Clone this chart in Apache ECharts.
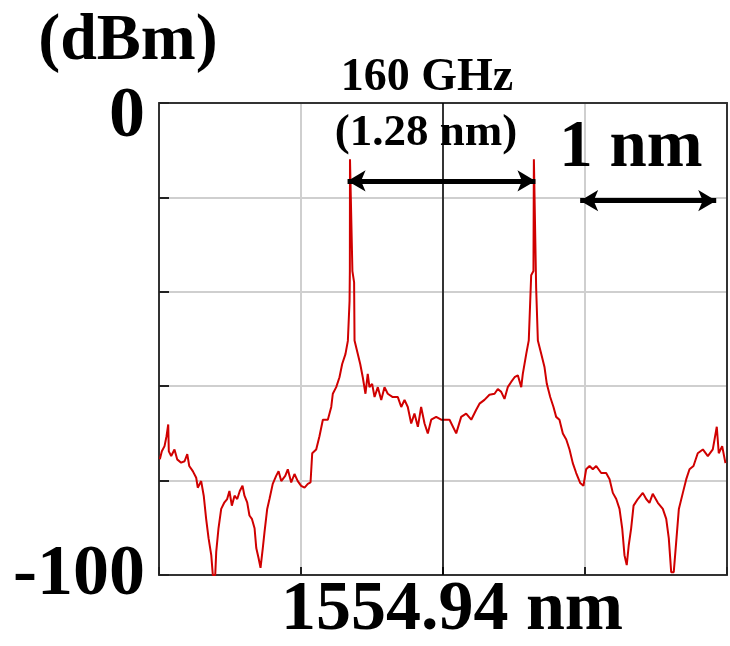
<!DOCTYPE html>
<html>
<head>
<meta charset="utf-8">
<script src="https://cdn.jsdelivr.net/npm/echarts@6/dist/echarts.min.js"></script>
<style>
  html, body { margin: 0; padding: 0; background: #fff; }
  #chart { width: 730px; height: 646px; }
</style>
</head>
<body>
<div id="chart"></div>
<script>
// centre wavelength of the scan, x data are offsets from it (nm)
var centerNm = 1554.94
var offsetNm = [
  -1.994, -1.980, -1.961, -1.947, -1.935, -1.931, -1.914, -1.891, -1.872, -1.844,
  -1.820, -1.801, -1.787, -1.762, -1.738, -1.727, -1.703, -1.685, -1.668, -1.651,
  -1.632, -1.621, -1.604, -1.597, -1.581, -1.562, -1.539, -1.520, -1.504, -1.487,
  -1.468, -1.449, -1.431, -1.412, -1.398, -1.379, -1.363, -1.346, -1.327, -1.315,
  -1.299, -1.285, -1.269, -1.257, -1.238, -1.222, -1.199, -1.175, -1.158, -1.139,
  -1.111, -1.093, -1.069, -1.046, -1.023, -0.999, -0.975, -0.952, -0.933, -0.921,
  -0.893, -0.870, -0.846, -0.811, -0.787, -0.776, -0.752, -0.729, -0.710, -0.687,
  -0.670, -0.658, -0.656, -0.655, -0.641, -0.638, -0.626, -0.623, -0.600, -0.583,
  -0.565, -0.546, -0.530, -0.518, -0.499, -0.482, -0.459, -0.435, -0.412, -0.389,
  -0.354, -0.318, -0.294, -0.271, -0.248, -0.224, -0.201, -0.177, -0.154, -0.130,
  -0.107, -0.083, -0.048, -0.013, 0.023, 0.046, 0.093, 0.128, 0.163, 0.199,
  0.234, 0.257, 0.292, 0.327, 0.363, 0.386, 0.410, 0.433, 0.456, 0.480,
  0.504, 0.527, 0.551, 0.562, 0.586, 0.604, 0.621, 0.637, 0.640, 0.654,
  0.656, 0.668, 0.692, 0.715, 0.731, 0.755, 0.778, 0.797, 0.820, 0.844,
  0.868, 0.891, 0.914, 0.938, 0.966, 0.989, 1.008, 1.032, 1.055, 1.079,
  1.114, 1.149, 1.173, 1.196, 1.220, 1.243, 1.262, 1.278, 1.294, 1.308,
  1.325, 1.342, 1.372, 1.407, 1.431, 1.454, 1.477, 1.513, 1.548, 1.572,
  1.590, 1.607, 1.625, 1.642, 1.661, 1.689, 1.713, 1.736, 1.764, 1.794,
  1.830, 1.865, 1.900, 1.928, 1.942, 1.966, 1.989
]
var powerDbm = [
  -75.5, -73.8, -72.7, -70.6, -68.1, -73.8, -74.8, -73.4, -75.5, -76.2,
  -75.9, -74.4, -76.9, -78.0, -79.4, -81.5, -80.1, -83.2, -88.1, -92.2,
  -95.8, -100, -100, -95.1, -90.1, -86.0, -84.6, -83.9, -82.2, -85.3,
  -83.2, -83.9, -82.2, -81.1, -83.2, -84.6, -87.4, -88.1, -90.1, -94.3,
  -96.4, -98.5, -94.3, -90.9, -86.0, -83.9, -80.7, -79.0, -78.0, -80.1,
  -79.0, -77.6, -80.4, -78.6, -80.1, -81.1, -81.5, -80.7, -80.4, -74.2,
  -73.4, -70.6, -67.1, -67.1, -64.4, -61.6, -60.2, -58.1, -55.3, -53.2,
  -50.4, -41.9, -35.6, -11.9, -11.9, -35.6, -38.0, -50.3, -53.2, -55.3,
  -58.1, -61.6, -57.4, -60.2, -59.5, -62.3, -60.2, -62.9, -60.2, -61.6,
  -62.3, -62.3, -64.4, -62.9, -64.4, -67.9, -65.8, -68.6, -64.4, -67.9,
  -70.0, -67.1, -66.5, -67.1, -67.1, -67.1, -70.0, -66.5, -65.8, -67.1,
  -65.0, -63.7, -62.9, -61.8, -61.6, -60.6, -61.2, -62.7, -60.2, -59.1,
  -58.1, -57.7, -60.2, -57.4, -53.2, -50.3, -36.5, -35.6, -11.9, -11.9,
  -39.2, -50.3, -53.2, -56.0, -59.5, -62.3, -64.4, -66.5, -67.1, -70.0,
  -71.3, -73.4, -76.3, -78.4, -80.5, -81.1, -77.6, -76.9, -77.6, -76.9,
  -78.4, -78.4, -79.7, -82.6, -83.9, -86.0, -90.1, -95.8, -97.9, -93.7,
  -90.1, -85.3, -83.9, -82.6, -83.9, -84.7, -82.8, -84.7, -86.0, -88.1,
  -92.2, -99.4, -99.4, -93.1, -86.0, -82.6, -79.7, -77.6, -76.9, -74.2,
  -73.4, -74.8, -73.4, -68.6, -74.2, -72.7, -76.3
]
var yTickLabels = [0, -100]

// annotation arrows: [start offset, end offset, level dBm]
var spacingArrow = [-0.672, 0.651, -16.5]
var scaleArrow = [0.966, 1.924, -20.7]

var serif = '"Liberation Serif", "Times New Roman", serif'
var frame = { color: '#333', width: 2 }

var chart = echarts.init(document.getElementById('chart'))

function arrowLine(a) {
  return [
    { coord: [a[0], a[2]], symbol: 'arrow' },
    { coord: [a[1], a[2]], symbol: 'arrow' }
  ]
}

chart.setOption({
  animation: false,
  backgroundColor: '#fff',
  grid: { left: 159, right: 3, top: 103, bottom: 66 },
  xAxis: [
    {
      type: 'value',
      min: -2,
      max: 2,
      interval: 1,
      axisLine: { show: true, onZero: false, lineStyle: frame },
      axisTick: { show: true, inside: true, length: 8, lineStyle: { color: '#222', width: 2 } },
      splitLine: { show: true, lineStyle: { color: '#cfcfcf', width: 2 } },
      axisLabel: {
        margin: 1,
        formatter: function(v) {
          return Math.abs(v) < 1e-6 ? '{c|' + centerNm.toFixed(2) + ' nm}' : ''
        },
        rich: {
          c: {
            fontFamily: serif,
            fontWeight: 'bold',
            fontSize: 70,
            lineHeight: 70,
            color: '#000',
            padding: [0, 0, 0, 18]
          }
        }
      }
    },
    {
      // top frame edge
      type: 'value', position: 'top', min: -2, max: 2, interval: 1,
      axisLine: { show: true, onZero: false, lineStyle: frame },
      axisTick: { show: false }, axisLabel: { show: false }, splitLine: { show: false }
    }
  ],
  yAxis: [
    {
      type: 'value',
      min: -100,
      max: 0,
      interval: 20,
      axisLine: { show: true, onZero: false, lineStyle: frame },
      axisTick: { show: true, inside: true, length: 10, lineStyle: { color: '#222', width: 2 } },
      splitLine: { show: true, lineStyle: { color: '#cfcfcf', width: 2 } },
      axisLabel: {
        margin: 14,
        formatter: function(v) {
          if (yTickLabels.indexOf(v) < 0) return ''
          return v === 0 ? '{top|' + v + '}' : '{n|' + v + '}'
        },
        rich: {
          top: { fontFamily: serif, fontWeight: 'bold', fontSize: 72, color: '#000', padding: [29, 0, 0, 0] },
          n: { fontFamily: serif, fontWeight: 'bold', fontSize: 72, color: '#000' }
        }
      }
    },
    {
      // right frame edge
      type: 'value', position: 'right', min: -100, max: 0, interval: 20,
      axisLine: { show: true, onZero: false, lineStyle: frame },
      axisTick: { show: false }, axisLabel: { show: false }, splitLine: { show: false }
    }
  ],
  series: [
    {
      // centre wavelength marker
      type: 'line',
      data: [],
      z: 2,
      markLine: {
        silent: true,
        symbol: 'none',
        label: { show: false },
        lineStyle: { color: '#000', width: 1.5, type: 'solid' },
        data: [{ xAxis: 0 }]
      }
    },
    {
      type: 'line',
      data: offsetNm.map(function(x, i) { return [x, powerDbm[i]] }),
      showSymbol: false,
      z: 3,
      lineStyle: { color: '#d00000', width: 2 },
      itemStyle: { color: '#d00000' }
    },
    {
      type: 'line',
      data: [],
      z: 5,
      markLine: {
        silent: true,
        symbolSize: [16, 18],
        label: { show: false },
        lineStyle: { color: '#000', width: 5, type: 'solid' },
        itemStyle: { color: '#000' },
        data: [arrowLine(spacingArrow), arrowLine(scaleArrow)]
      }
    }
  ],
  graphic: [
    {
      type: 'text', x: 128, y: 42, z: 10,
      style: { text: '(dBm)', fontFamily: serif, fontWeight: 'bold', fontSize: 66, fill: '#000', align: 'center', verticalAlign: 'middle' }
    },
    {
      type: 'text', x: 427, y: 78, z: 10,
      style: { text: '160 GHz', fontFamily: serif, fontWeight: 'bold', fontSize: 46, fill: '#000', align: 'center', verticalAlign: 'middle' }
    },
    {
      type: 'text', x: 426, y: 133, z: 10,
      style: { text: '(1.28 nm)', fontFamily: serif, fontWeight: 'bold', fontSize: 45, fill: '#000', align: 'center', verticalAlign: 'middle' }
    },
    {
      type: 'text', x: 631, y: 149, z: 10,
      style: { text: '1 nm', fontFamily: serif, fontWeight: 'bold', fontSize: 67, fill: '#000', align: 'center', verticalAlign: 'middle' }
    }
  ]
})
</script>
</body>
</html>
